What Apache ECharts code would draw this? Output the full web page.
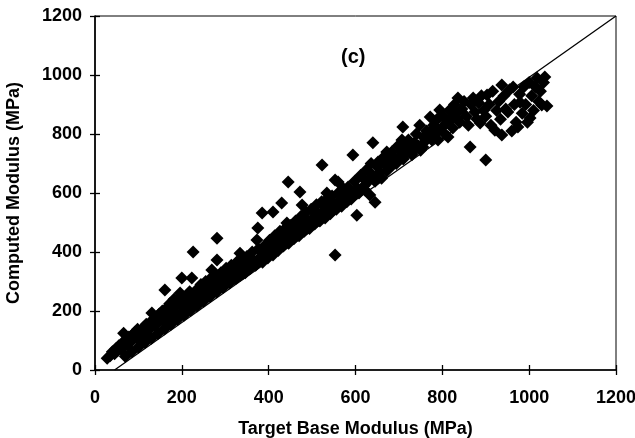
<!DOCTYPE html>
<html>
<head>
<meta charset="utf-8">
<script src="https://cdn.jsdelivr.net/npm/echarts@6/dist/echarts.min.js"></script>
<style>
html,body{margin:0;padding:0;background:#fff;}
#chart{width:635px;height:438px;}
</style>
</head>
<body>
<div id="chart"></div>
<script>
const axisTicks = [0, 200, 400, 600, 800, 1000, 1200];
const fitLine = [[45, 0], [1200, 1200]];
const panelLabel = '(c)';
const xTitle = 'Target Base Modulus (MPa)';
const yTitle = 'Computed Modulus (MPa)';

const pointsLow = [
[28,40],[35,48],[40,62],[45,55],[48,72],[52,65],[55,82],[60,70],[63,92],[66,125],[68,80],[72,100],[75,88],[78,112],[82,95],[85,118],[88,105],[92,128],[95,110],[98,138],[102,118],[105,98],[108,130],[112,145],[115,122],[118,155],[122,135],[126,160],[130,145],[131,193],[134,170],[138,150],[142,178],[145,160],[148,190],[152,170],[155,200],[158,180],[161,271],[162,160],[165,210],[168,190],[172,225],[175,175],[178,205],[182,240],[185,195],[188,225],[192,185],[195,245],[196,261],[200,312],[200,215],[203,235],[207,200],[210,250],[214,225],[218,265],[222,240],[223,312],[226,400],[228,255],[232,235],[236,275],[240,250],[244,290],[248,265],[252,245],
[70,46],[85,62],[100,77],[115,93],[130,108],[145,124],[160,139],[175,155],[190,171],[205,186],[220,202],[235,217],[250,233]
];
const pointsMid = [
[255,300],[258,275],[262,260],[266,310],[269,339],[270,285],[274,270],[278,320],[281,373],[281,447],[282,295],[286,280],[290,330],[294,305],[298,290],[302,345],[306,315],[310,300],[314,355],[318,330],[322,310],[326,365],[330,340],[334,396],[334,320],[338,375],[342,350],[346,330],[350,385],[354,360],[358,345],[362,400],[366,370],[370,355],[373,441],[375,481],[376,410],[380,407],[382,385],[385,532],[386,365],[390,420],[394,395],[398,380],[402,440],[406,410],[410,536],[410,390],[414,455],[418,425],[422,405],[426,470],[430,566],[430,440],[434,420],[438,480],[442,498],[442,455],[445,637],[446,430],[450,490],[454,465],[458,445],[462,505],[465,464],[466,480],[470,455],[472,603],[474,520],[477,559],[478,490],[482,470],[486,535],[488,508],[490,500],[494,480],[498,545],[502,515],[506,495],[510,560],[514,530],[518,525],[518,505],[522,570],[523,695],[525,559],[526,540],[530,515],[534,600],[534,580],[538,550],[542,530],[546,590],[550,565],[553,390],[553,644],[556,545],[560,637],[560,600],[564,575],[568,555],[572,615],[576,590],[580,570],[583,620],[586,600],[590,580],[594,729],[594,593],[598,640],
[265,249],[280,264],[295,280],[310,295],[325,311],[340,326],[355,342],[370,358],[385,373],[400,389],[415,404],[430,420],[445,436],[460,451],[475,467],[490,482],[505,498],[520,514],[535,529],[550,545],[565,560],[580,576],[595,591]
];
const pointsHigh = [
[603,525],[605,615],[608,600],[612,660],[617,651],[620,625],[622,610],[626,680],[630,640],[633,593],[636,700],[640,770],[640,660],[645,569],[645,640],[650,690],[652,705],[656,670],[660,650],[664,720],[668,695],[672,739],[672,675],[676,710],[680,690],[684,740],[686,695],[690,720],[694,700],[698,760],[702,722],[706,740],[707,780],[709,824],[710,715],[714,760],[718,735],[722,780],[726,750],[730,730],[732,739],[736,770],[740,800],[744,760],[748,830],[750,745],[755,756],[756,790],[760,775],[764,810],[768,790],[772,858],[772,807],[776,780],[780,830],[784,800],[788,850],[790,780],[794,881],[798,820],[802,860],[806,800],[810,840],[813,790],[816,880],[820,850],[824,820],[828,900],[832,870],[834,854],[836,922],[840,840],[845,885],[850,910],[855,860],[860,830],[864,756],[866,900],[871,922],[875,875],[880,850],[884,905],[887,837],[890,930],[895,880],[900,712],[900,860],[903,932],[908,900],[912,830],[916,945],[921,813],[925,880],[930,910],[934,850],[937,966],[937,797],[942,930],[946,885],[951,875],[955,950],[960,810],[963,959],[966,900],[970,840],[974,824],[978,935],[979,908],[984,870],[988,960],[992,900],[996,840],[1000,975],[1002,854],[1006,930],[1010,880],[1014,960],[1018,990],[1022,910],[1026,945],[1029,898],[1033,975],[1036,993],[1041,895]
];

const FONT = 'Liberation Sans, Arial, sans-serif';
const txt = {color:'#000', fontFamily:FONT, fontWeight:'bold', fontSize:18};
const axisMin = axisTicks[0], axisMax = axisTicks[axisTicks.length-1], step = axisTicks[1]-axisTicks[0];

function mainAxis(isX){
  return {
    type:'value', min:axisMin, max:axisMax, interval:step,
    position: isX ? 'bottom' : 'left',
    axisLine:{show:true, onZero:false, lineStyle:{color:'#000', width:1.6}},
    axisTick:{show:true, inside:false, length:5, lineStyle:{color:'#000', width:1.3}},
    axisLabel:Object.assign({margin: isX ? 19 : 13, formatter: v => String(v)}, txt),
    splitLine:{show:false},
    name: isX ? xTitle : yTitle,
    nameLocation:'middle',
    nameGap: isX ? 50 : 72,
    nameTextStyle: Object.assign({}, txt)
  };
}
function innerAxis(isX){
  return {
    type:'value', min:axisMin, max:axisMax, interval:step,
    position: isX ? 'bottom' : 'left',
    axisLine:{show:false},
    axisTick:{show:true, inside:true, length:5, lineStyle:{color:'#000', width:1.3}},
    axisLabel:{show:false},
    splitLine:{show:false}
  };
}

const chart = echarts.init(document.getElementById('chart'), null, {renderer:'canvas'});
chart.setOption({
  animation:false,
  backgroundColor:'#fff',
  grid:{left:95, right:19, top:16, bottom:68, containLabel:false, outerBoundsMode:'none',
        show:true, borderColor:'#000', borderWidth:1, backgroundColor:'transparent'},
  xAxis:[mainAxis(true), innerAxis(true)],
  yAxis:[mainAxis(false), innerAxis(false)],
  graphic:[{type:'text', left:341, top:47, style:{text:panelLabel, fill:'#000', font:'bold 20px '+FONT}}],
  series:[
    {type:'scatter', xAxisIndex:0, yAxisIndex:0, symbol:'diamond', symbolSize:13,
     itemStyle:{color:'#000', opacity:1}, emphasis:{disabled:true},
     data: pointsLow.concat(pointsMid, pointsHigh), z:2},
    {type:'line', xAxisIndex:0, yAxisIndex:0, data:fitLine, showSymbol:false, symbol:'none',
     lineStyle:{color:'#000', width:1.3}, z:3}
  ]
});
</script>
</body>
</html>
